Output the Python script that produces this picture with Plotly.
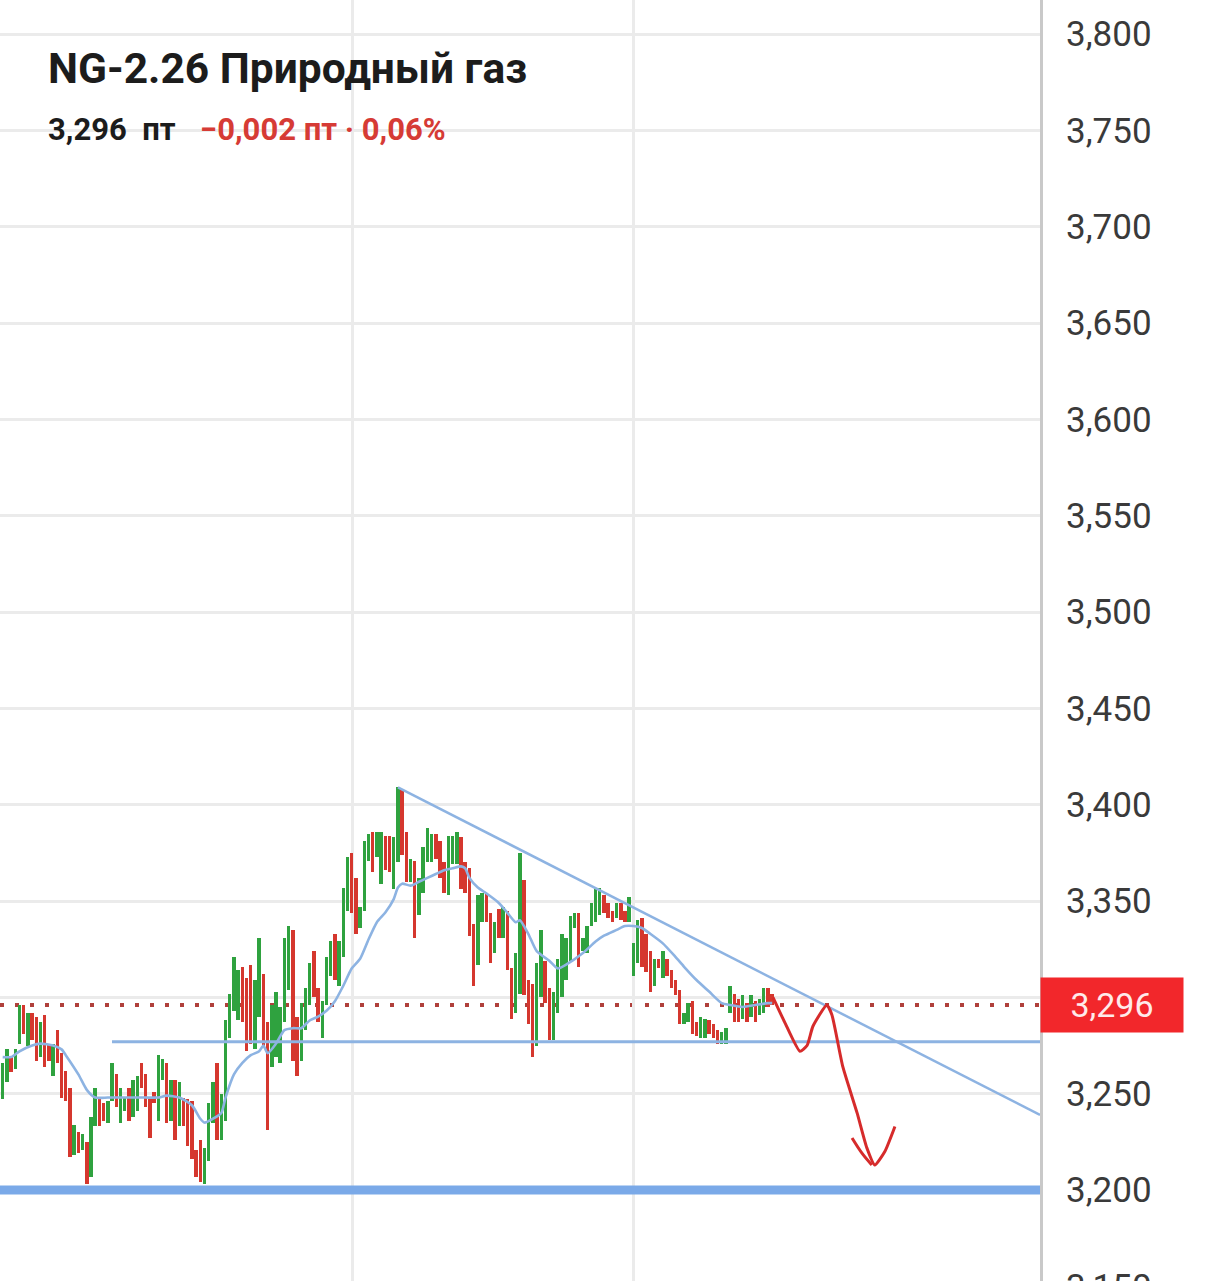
import plotly.graph_objects as go

# ---------------- data ----------------
opens = [3.247, 3.256, 3.269, 3.263, 3.276, 3.296, 3.275, 3.292, 3.290, 3.269,
         3.291, 3.276, 3.259, 3.283, 3.271, 3.262, 3.253, 3.218, 3.230, 3.221,
         3.225, 3.207, 3.233, 3.248, 3.245, 3.235, 3.246, 3.260, 3.235, 3.241,
         3.253, 3.238, 3.241, 3.266, 3.260, 3.248, 3.251, 3.236, 3.257, 3.266,
         3.236, 3.257, 3.233, 3.248, 3.247, 3.246, 3.221, 3.226, 3.203, 3.215,
         3.235, 3.266, 3.226, 3.236, 3.279, 3.293, 3.288, 3.316, 3.310, 3.317,
         3.273, 3.290, 3.312, 3.287, 3.264, 3.269, 3.266, 3.287, 3.304, 3.335,
         3.290, 3.267, 3.283, 3.296, 3.324, 3.305, 3.279, 3.296, 3.311, 3.333,
         3.306, 3.321, 3.345, 3.375, 3.362, 3.336, 3.345, 3.371, 3.386, 3.373,
         3.359, 3.384, 3.384, 3.356, 3.370, 3.408, 3.386, 3.360, 3.371, 3.343,
         3.354, 3.370, 3.370, 3.385, 3.381, 3.370, 3.353, 3.369, 3.369, 3.383,
         3.370, 3.367, 3.338, 3.317, 3.339, 3.354, 3.344, 3.323, 3.346, 3.331,
         3.345, 3.315, 3.292, 3.302, 3.361, 3.309, 3.307, 3.275, 3.300, 3.319,
         3.305, 3.278, 3.292, 3.300, 3.309, 3.319, 3.336, 3.344, 3.324, 3.323,
         3.337, 3.339, 3.343, 3.353, 3.349, 3.345, 3.341, 3.349, 3.345, 3.339,
         3.311, 3.318, 3.341, 3.333, 3.324, 3.306, 3.320, 3.310, 3.320, 3.314,
         3.309, 3.304, 3.286, 3.287, 3.298, 3.287, 3.279, 3.279, 3.288, 3.286,
         3.283, 3.276, 3.276, 3.292, 3.302, 3.299, 3.289, 3.297, 3.290, 3.298,
         3.291, 3.292, 3.305, 3.302]
closes = [3.266, 3.273, 3.261, 3.273, 3.296, 3.281, 3.292, 3.278, 3.267, 3.287,
          3.264, 3.267, 3.276, 3.266, 3.248, 3.246, 3.217, 3.234, 3.219, 3.229,
          3.203, 3.238, 3.253, 3.233, 3.236, 3.246, 3.266, 3.243, 3.253, 3.248,
          3.236, 3.257, 3.259, 3.253, 3.243, 3.227, 3.245, 3.270, 3.268, 3.235,
          3.257, 3.226, 3.256, 3.233, 3.223, 3.216, 3.207, 3.204, 3.222, 3.245,
          3.256, 3.226, 3.250, 3.288, 3.302, 3.321, 3.314, 3.287, 3.272, 3.276,
          3.309, 3.331, 3.275, 3.231, 3.296, 3.303, 3.295, 3.331, 3.337, 3.267,
          3.259, 3.297, 3.305, 3.318, 3.300, 3.287, 3.298, 3.321, 3.329, 3.309,
          3.329, 3.357, 3.373, 3.344, 3.333, 3.347, 3.381, 3.385, 3.365, 3.386,
          3.386, 3.366, 3.365, 3.383, 3.409, 3.374, 3.360, 3.372, 3.331, 3.362,
          3.378, 3.388, 3.385, 3.372, 3.362, 3.354, 3.384, 3.384, 3.386, 3.356,
          3.354, 3.332, 3.306, 3.353, 3.354, 3.339, 3.318, 3.339, 3.331, 3.347,
          3.314, 3.289, 3.323, 3.375, 3.301, 3.286, 3.269, 3.318, 3.335, 3.297,
          3.278, 3.303, 3.320, 3.333, 3.331, 3.342, 3.344, 3.316, 3.331, 3.337,
          3.349, 3.356, 3.357, 3.344, 3.341, 3.339, 3.349, 3.340, 3.339, 3.352,
          3.328, 3.340, 3.316, 3.313, 3.303, 3.320, 3.315, 3.324, 3.311, 3.305,
          3.301, 3.286, 3.292, 3.297, 3.281, 3.280, 3.290, 3.289, 3.281, 3.279,
          3.276, 3.282, 3.284, 3.306, 3.287, 3.287, 3.301, 3.287, 3.301, 3.287,
          3.299, 3.305, 3.295, 3.296]

# moving average (bar index, value)
ma_index = [0, 2, 4, 7, 9, 12, 14, 15, 18, 20, 22, 25, 28, 31, 34, 37, 39, 42, 45,
            47, 48, 50, 52, 53, 55, 57, 59, 61, 62, 63, 65, 67, 69, 71, 73, 75, 77,
            79, 81, 83, 85, 87, 89, 91, 93, 94, 95, 97, 99, 101, 103, 105, 107, 109,
            110, 111, 113, 115, 118, 120, 122, 123, 125, 127, 130, 132, 134, 138,
            141, 143, 146, 148, 150, 152, 154, 157, 160, 162, 165, 168, 171, 173,
            176, 179, 182, 183]
ma_values = [3.269, 3.269, 3.272, 3.275, 3.276, 3.275, 3.273, 3.270, 3.260, 3.252,
             3.248, 3.248, 3.248, 3.248, 3.248, 3.248, 3.249, 3.248, 3.244, 3.237,
             3.235, 3.237, 3.240, 3.248, 3.260, 3.266, 3.270, 3.272, 3.275, 3.271,
             3.276, 3.283, 3.284, 3.284, 3.288, 3.290, 3.293, 3.298, 3.306, 3.315,
             3.320, 3.330, 3.339, 3.344, 3.351, 3.357, 3.359, 3.358, 3.360, 3.362,
             3.364, 3.366, 3.367, 3.368, 3.367, 3.362, 3.357, 3.354, 3.349, 3.344,
             3.339, 3.340, 3.333, 3.324, 3.319, 3.315, 3.317, 3.323, 3.329, 3.332,
             3.335, 3.337, 3.337, 3.336, 3.333, 3.328, 3.321, 3.316, 3.309, 3.303,
             3.297, 3.296, 3.295, 3.296, 3.297, 3.297]

last_price = 3.296
support_level = 3.277
support_from = 26
base_level = 3.200
trend_index = [94, 246.7]
trend_values = [3.409, 3.239]

# hand-drawn forecast arrow
arrow_index = [183.2, 186.0, 189.6, 191.3, 192.7, 196.0, 197.2, 199.8, 203.2, 205.5,
               207.4, 209.8, 212.2]
arrow_values = [3.300, 3.287, 3.272, 3.275, 3.285, 3.296, 3.291, 3.264, 3.240, 3.222,
                3.213, 3.220, 3.233]
arrowhead_index = [202.0, 204.4, 206.7]
arrowhead_values = [3.227, 3.219, 3.213]

y_ticks = [3.15, 3.20, 3.25, 3.30, 3.35, 3.40, 3.45, 3.50, 3.55, 3.60, 3.65, 3.70, 3.75, 3.80]
y_tick_labels = ["3,150", "3,200", "3,250", "", "3,350", "3,400", "3,450", "3,500",
                 "3,550", "3,600", "3,650", "3,700", "3,750", "3,800"]
date_grid = [83.1, 150.1]

title_text = "NG-2.26 Природный газ"
price_text = "3,296  пт"
change_text = "−0,002 пт · 0,06%"
last_price_label = "3,296"
bottom_label = "3,150"

# ---------------- figure ----------------
W, H = 1214, 1281
PLOT_RIGHT = 1040 / W
GREEN = "#2fa23f"
RED = "#d5372e"
BLUE = "#8db3e2"

idx = list(range(len(opens)))
bases = [min(o, c) for o, c in zip(opens, closes)]
heights = [abs(c - o) for o, c in zip(opens, closes)]
colors = [GREEN if c >= o else RED for o, c in zip(opens, closes)]

X_RANGE = [-0.64, 246.7]
Y_RANGE = [3.15278, 3.81765]

fig = go.Figure()

fig.add_trace(go.Bar(x=idx, y=heights, base=bases, width=0.82,
                     marker=dict(color=colors, line_width=0),
                     hoverinfo="skip", showlegend=False))

fig.add_trace(go.Scatter(x=ma_index, y=ma_values, mode="lines",
                         line=dict(color=BLUE, width=2.6, shape="spline", smoothing=0.6),
                         hoverinfo="skip", showlegend=False))

fig.add_trace(go.Scatter(x=[support_from, X_RANGE[1] + 5], y=[support_level, support_level],
                         mode="lines", line=dict(color=BLUE, width=3),
                         hoverinfo="skip", showlegend=False))

fig.add_trace(go.Scatter(x=[X_RANGE[0] - 2, X_RANGE[1] + 5], y=[base_level, base_level],
                         mode="lines", line=dict(color="#7aa9e8", width=9),
                         hoverinfo="skip", showlegend=False))

fig.add_trace(go.Scatter(x=trend_index, y=trend_values, mode="lines",
                         line=dict(color=BLUE, width=2.5),
                         hoverinfo="skip", showlegend=False))

fig.add_trace(go.Scatter(x=arrow_index, y=arrow_values, mode="lines",
                         line=dict(color="#d62b2b", width=3, shape="spline", smoothing=0.5),
                         hoverinfo="skip", showlegend=False))
fig.add_trace(go.Scatter(x=arrowhead_index, y=arrowhead_values, mode="lines",
                         line=dict(color="#d62b2b", width=3, shape="spline"),
                         hoverinfo="skip", showlegend=False))

# dotted last-price line (behind bars)
fig.add_shape(type="line", xref="paper", yref="y", x0=0, x1=PLOT_RIGHT,
              y0=last_price, y1=last_price, layer="below",
              line=dict(color="#b0403b", width=4, dash="4px,11px"))

# last price label
fig.add_annotation(xref="paper", yref="y", x=PLOT_RIGHT, y=last_price,
                   xanchor="left", yanchor="middle", text=last_price_label, showarrow=False,
                   bgcolor="#f2272b", width=142, height=54, borderpad=0,
                   font=dict(family="Roboto", size=34, color="#ffeaea"))

# partially visible bottom tick label
fig.add_annotation(xref="paper", yref="paper", x=1064 / W, y=-6 / H,
                   xanchor="left", yanchor="middle", text=bottom_label, showarrow=False,
                   font=dict(family="Roboto", size=35, color="#3a3a3a"))

# titles
fig.add_annotation(xref="paper", yref="paper", x=46 / W, y=1 - 68 / H,
                   xanchor="left", yanchor="middle", showarrow=False,
                   text="<b>" + title_text + "</b>",
                   font=dict(family="Roboto", size=42.5, color="#1c1c1c"))
fig.add_annotation(xref="paper", yref="paper", x=46 / W, y=1 - 129 / H,
                   xanchor="left", yanchor="middle", showarrow=False,
                   text="<b>" + price_text.replace(" ", "\u00a0") + "</b>",
                   font=dict(family="Roboto", size=31, color="#1c1c1c"))
fig.add_annotation(xref="paper", yref="paper", x=198 / W, y=1 - 129 / H,
                   xanchor="left", yanchor="middle", showarrow=False,
                   text="<b>" + change_text + "</b>",
                   font=dict(family="Roboto", size=31, color="#d63b35"))

fig.update_layout(
    width=W, height=H,
    margin=dict(l=0, r=0, t=0, b=0),
    paper_bgcolor="white", plot_bgcolor="white",
    showlegend=False,
    bargap=0,
    hovermode=False,
    xaxis=dict(domain=[0, PLOT_RIGHT], range=X_RANGE, showticklabels=False,
               tickvals=date_grid, showgrid=True, gridcolor="#ebebeb", gridwidth=3,
               zeroline=False, showline=False, ticks=""),
    yaxis=dict(side="right", range=Y_RANGE, tickvals=y_ticks, ticktext=y_tick_labels,
               showgrid=True, gridcolor="#ebebeb", gridwidth=3, zeroline=False,
               showline=True, linecolor="#c9c9c9", linewidth=3, ticks="",
               ticklabelstandoff=16,
               tickfont=dict(family="Roboto", size=35, color="#3a3a3a")),
)

fig.write_html("out.html",
               config={"displayModeBar": False, "staticPlot": True},
               post_script="document.body.style.margin='0px';document.body.style.padding='0px';")
